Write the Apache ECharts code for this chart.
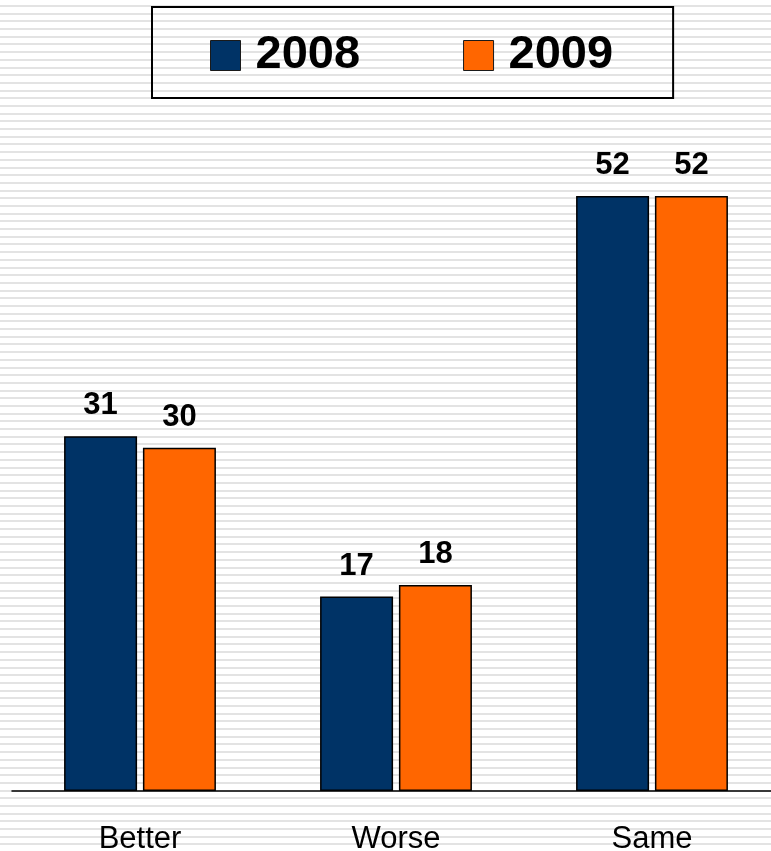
<!DOCTYPE html>
<html>
<head>
<meta charset="utf-8">
<script src="https://cdn.jsdelivr.net/npm/echarts@6/dist/echarts.min.js"></script>
<style>
  html, body { margin: 0; padding: 0; }
  body {
    width: 771px; height: 851px;
    background: repeating-linear-gradient(to bottom,
      #ffffff 0px, #ffffff 5px, #e3e3e3 5px, #e3e3e3 7px, #ffffff 7px, #ffffff 7.692px);
  }
  #chart { width: 771px; height: 851px; }
</style>
</head>
<body>
<div id="chart"></div>
<script>
const categories = ['Better', 'Worse', 'Same'];
const seriesNames = ['2008', '2009'];
const values2008 = [31, 17, 52];
const values2009 = [30, 18, 52];
const colors = ['#003366', '#ff6600'];

const chart = echarts.init(document.getElementById('chart'));

const labelStyle = {
  show: true,
  position: 'top',
  distance: 15,
  color: '#000',
  fontSize: 31,
  fontWeight: 'bold',
  fontFamily: 'Liberation Sans, Arial, sans-serif'
};

chart.setOption({
  backgroundColor: 'transparent',
  animation: false,
  legend: {
    data: seriesNames,
    left: 152,
    top: 7,
    padding: [25, 60, 19, 58],
    icon: 'rect',
    itemWidth: 30,
    itemHeight: 30,
    itemGap: 103,
    borderColor: '#000',
    borderWidth: 2,
    textStyle: {
      color: '#000',
      fontSize: 47,
      fontWeight: 'bold',
      fontFamily: 'Liberation Sans, Arial, sans-serif',
      padding: [8, 0, 0, 10]
    },
    itemStyle: { borderColor: '#1a1a1a', borderWidth: 1 }
  },
  grid: {
    left: 12,
    width: 768,
    top: 104.5,
    bottom: 60,
    containLabel: false,
    outerBoundsMode: 'none'
  },
  xAxis: {
    type: 'category',
    data: categories,
    axisLine: { lineStyle: { color: '#000', width: 1.5 } },
    axisTick: { show: false },
    axisLabel: {
      color: '#000',
      fontSize: 31,
      margin: 33,
      fontFamily: 'Liberation Sans, Arial, sans-serif'
    }
  },
  yAxis: {
    type: 'value',
    min: 0,
    max: 60,
    show: false,
    splitLine: { show: false }
  },
  series: [
    {
      name: seriesNames[0],
      type: 'bar',
      data: values2008,
      barWidth: 73,
      barGap: '8%',
      itemStyle: { color: colors[0], borderColor: '#000', borderWidth: 1.5 },
      label: labelStyle
    },
    {
      name: seriesNames[1],
      type: 'bar',
      data: values2009,
      barWidth: 73,
      itemStyle: { color: colors[1], borderColor: '#000', borderWidth: 1.5 },
      label: labelStyle
    }
  ]
});
</script>
</body>
</html>
